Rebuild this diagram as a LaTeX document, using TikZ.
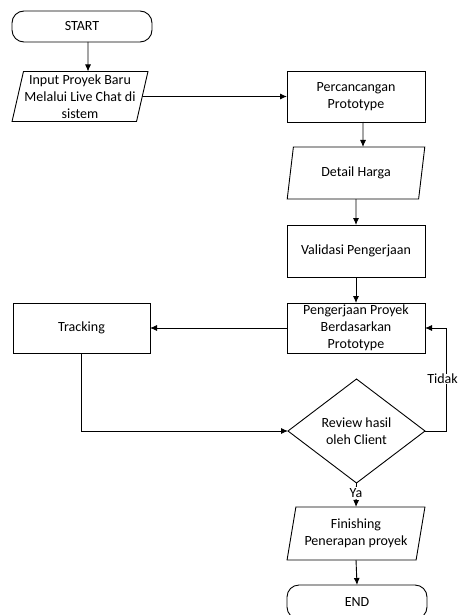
\documentclass[tikz,border=0pt]{standalone}
\usepackage{fontspec}
\setmainfont{Carlito}
\usetikzlibrary{shapes.geometric,arrows.meta}
\begin{document}
\begin{tikzpicture}[x=1pt,y=-1pt,
  font=\fontsize{14}{17}\selectfont,
  base/.style={draw=black, line width=0.9pt, outer sep=0pt, inner sep=1pt, align=center},
  procbox/.style={base, rectangle, minimum width=138pt, minimum height=51pt},
  termbox/.style={base, rectangle, rounded corners=12pt, minimum width=140pt},
  iobox/.style={base, trapezium, trapezium left angle=76, trapezium right angle=104,
    trapezium stretches=true, minimum width=138pt, minimum height=52pt},
  decbox/.style={base, diamond, aspect=1.3, inner sep=0pt, minimum width=137pt, minimum height=104pt},
  arr/.style={line width=0.9pt, -{Latex[length=7pt,width=6pt]}},
  ln/.style={line width=0.9pt},
  lbl/.style={fill=white, inner sep=1pt}
]
\useasboundingbox (0,0) rectangle (458,615);

\node[termbox, minimum height=31pt] (start) at (82,26.5) {START};
\node[iobox, minimum width=136pt, minimum height=50pt] (input) at (80,96.5) {Input Proyek Baru\\Melalui Live Chat di\\sistem};
\node[procbox] (perc) at (356,96.5) {Percancangan\\Prototype};
\node[iobox] (detail) at (356,173) {Detail Harga};
\node[procbox, minimum height=52pt] (valid) at (356,251) {Validasi Pengerjaan};
\node[procbox, minimum height=50pt] (peng) at (356,328) {Pengerjaan Proyek\\Berdasarkan\\Prototype};
\node[procbox, minimum width=137pt, minimum height=50pt] (track) at (81.5,328) {Tracking};
\node[decbox] (review) at (356.5,431) {Review hasil\\oleh Client};
\node[iobox, minimum height=53pt] (finish) at (356,533.5) {Finishing\\Penerapan proyek};
\node[termbox, minimum height=34pt] (end) at (357,602) {END};

\coordinate (tk) at (446,430);

\draw[arr] ([xshift=6pt]start.south) -- ([xshift=8pt]input.north);
\draw[arr] (input) -- (perc);
\draw[arr] ([xshift=7pt]perc.south) -- ([xshift=7pt]detail.north);
\draw[arr] (detail.south) -- (valid.north);
\draw[arr] (valid.south) -- (peng.north);
\draw[arr] (peng.west) -- (track.east);
\draw[arr] (track.south) |- (review.west);
\draw[arr] (review.east) -- (review.east -| tk) |- (peng.east);
\draw[arr] (review.south) -- (finish.north);
\draw[arr] (finish.south) -- (end.north);

\node[lbl, inner sep=0.5pt] (tidak) at (442.5,379) {Tidak};
\node[lbl] (ya) at (356,493) {Ya};
\end{tikzpicture}
\end{document}
